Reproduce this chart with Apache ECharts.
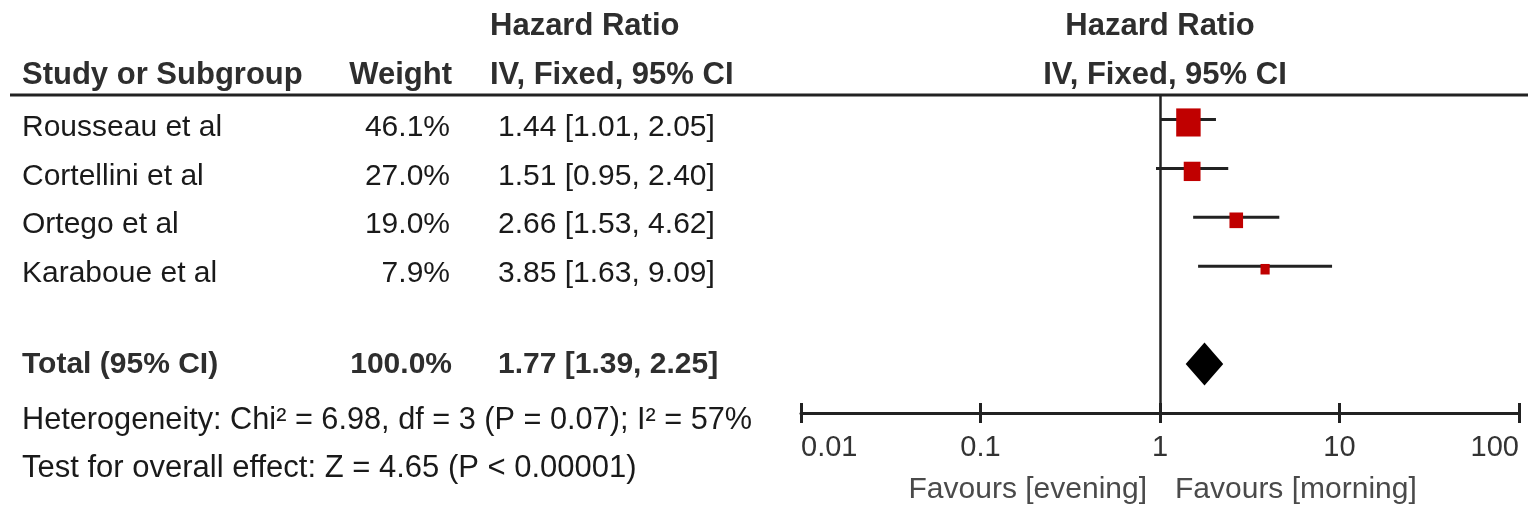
<!DOCTYPE html>
<html>
<head>
<meta charset="utf-8">
<script src="https://cdn.jsdelivr.net/npm/echarts@6/dist/echarts.min.js"></script>
<style>
  html, body { margin: 0; padding: 0; background: #fff; }
  #forest { width: 1528px; height: 510px; }
</style>
</head>
<body>
<div id="forest"></div>
<script>
// study rows
var studies = ['Rousseau et al', 'Cortellini et al', 'Ortego et al', 'Karaboue et al'];
var weights = [46.1, 27.0, 19.0, 7.9];
var hr = [1.44, 1.51, 2.66, 3.85];
var ciLow = [1.01, 0.95, 1.53, 1.63];
var ciHigh = [2.05, 2.40, 4.62, 9.09];
// pooled
var totalLabel = 'Total (95% CI)';
var totalWeight = 100.0;
var totalHr = 1.77;
var totalLow = 1.39;
var totalHigh = 2.25;
var heteroText = 'Heterogeneity: Chi² = 6.98, df = 3 (P = 0.07); I² = 57%';
var effectText = 'Test for overall effect: Z = 4.65 (P < 0.00001)';
var axisTicks = [0.01, 0.1, 1, 10, 100];
var favours = ['Favours [evening]', 'Favours [morning]'];

var FONT = '"Liberation Sans", Arial, sans-serif';
var TOTAL_ROW = 5;

function ciText(h, l, u) {
    return h.toFixed(2) + ' [' + l.toFixed(2) + ', ' + u.toFixed(2) + ']';
}

var myChart = echarts.init(document.getElementById('forest'));

// left table text
var graphics = [];
function txt(x, y, s, opt) {
    opt = opt || {};
    graphics.push({
        type: 'text', x: x, y: y, silent: true,
        style: {
            text: s, x: 0, y: 0,
            font: (opt.bold ? 'bold ' : '') + (opt.size || 30) + 'px ' + FONT,
            fill: opt.color || '#1a1a1a',
            textAlign: opt.align || 'left',
            textVerticalAlign: 'middle'
        }
    });
}
var HEAD = {bold: true, color: '#2e2e2e', size: 31};
// headers
txt(490, 26, 'Hazard Ratio', HEAD);
txt(22, 75, 'Study or Subgroup', HEAD);
txt(452, 75, 'Weight', {bold: true, color: '#2e2e2e', size: 31, align: 'right'});
txt(490, 75, 'IV, Fixed, 95% CI', HEAD);
txt(1160, 26, 'Hazard Ratio', {bold: true, color: '#2e2e2e', size: 31, align: 'center'});
txt(1165, 75, 'IV, Fixed, 95% CI', {bold: true, color: '#2e2e2e', size: 31, align: 'center'});

for (var i = 0; i < studies.length; i++) {
    var y = 128 + i * 48.5;
    txt(22, y, studies[i]);
    txt(450, y, weights[i].toFixed(1) + '%', {align: 'right'});
    txt(498, y, ciText(hr[i], ciLow[i], ciHigh[i]));
}
txt(22, 365, totalLabel, {bold: true, color: '#2e2e2e'});
txt(452, 365, totalWeight.toFixed(1) + '%', {bold: true, color: '#2e2e2e', align: 'right'});
txt(498, 365, ciText(totalHr, totalLow, totalHigh), {bold: true, color: '#2e2e2e'});
txt(22, 421, heteroText, {size: 30.7});
txt(22, 468, effectText, {size: 31});
txt(1147, 490, favours[0], {size: 30, color: '#4a4a4a', align: 'right'});
txt(1175, 490, favours[1], {size: 30, color: '#4a4a4a'});

// header rule
graphics.push({
    type: 'line', silent: true,
    shape: {x1: 10, y1: 95, x2: 1528, y2: 95},
    style: {stroke: '#222', lineWidth: 3}
});

var ciData = [];
var pointData = [];
for (var j = 0; j < studies.length; j++) {
    ciData.push([ciLow[j], ciHigh[j], j]);
    pointData.push([hr[j], j, weights[j]]);
}

option = {
    animation: false,
    backgroundColor: '#fff',
    graphic: graphics,
    grid: [
        {left: 801, right: 9, top: 95, bottom: 97},
        {left: 801, right: 9, top: 95, bottom: 97}
    ],
    xAxis: [
        {
            type: 'log', logBase: 10, min: 0.01, max: 100, gridIndex: 0,
            splitLine: {show: false},
            axisLine: {onZero: false, lineStyle: {color: '#222', width: 3}},
            axisTick: {length: 10, lineStyle: {color: '#222', width: 3}},
            axisLabel: {
                color: '#333', fontSize: 29, fontFamily: FONT, margin: 20,
                alignMinLabel: 'left', alignMaxLabel: 'right',
                formatter: function (v) {
                    for (var k = 0; k < axisTicks.length; k++) {
                        if (Math.abs(Math.log10(v) - Math.log10(axisTicks[k])) < 1e-6) return String(axisTicks[k]);
                    }
                    return '';
                }
            }
        },
        {
            // upward half of the tick marks
            type: 'log', logBase: 10, min: 0.01, max: 100, gridIndex: 1,
            splitLine: {show: false},
            axisLine: {show: false, onZero: false},
            axisLabel: {show: false},
            axisTick: {inside: true, length: 10, lineStyle: {color: '#222', width: 3}}
        }
    ],
    yAxis: [
        {type: 'value', inverse: true, min: -0.5, max: 6, show: false, gridIndex: 0},
        {type: 'value', inverse: true, min: -0.5, max: 6, show: false, gridIndex: 1}
    ],
    series: [
        {
            type: 'custom',
            name: 'ci',
            xAxisIndex: 0, yAxisIndex: 0,
            silent: true,
            data: ciData,
            renderItem: function (params, api) {
                var a = api.coord([api.value(0), api.value(2)]);
                var b = api.coord([api.value(1), api.value(2)]);
                return {
                    type: 'line',
                    shape: {x1: a[0], y1: a[1], x2: b[0], y2: b[1]},
                    style: {stroke: '#222', lineWidth: 3}
                };
            },
            markLine: {
                silent: true,
                symbol: 'none',
                label: {show: false},
                lineStyle: {color: '#222', width: 2.5, type: 'solid'},
                data: [{xAxis: 1}]
            }
        },
        {
            type: 'scatter',
            name: 'hr',
            xAxisIndex: 0, yAxisIndex: 0,
            silent: true,
            symbol: 'rect',
            symbolOffset: [0, 3],
            symbolSize: function (val) {
                var s = 6 + 0.4 * val[2];
                return [s, s * 1.15];
            },
            itemStyle: {color: '#c00000', opacity: 1},
            data: pointData,
            z: 3
        },
        {
            type: 'custom',
            name: 'total',
            xAxisIndex: 0, yAxisIndex: 0,
            silent: true,
            data: [[totalLow, totalHigh, totalHr, TOTAL_ROW]],
            renderItem: function (params, api) {
                var l = api.coord([api.value(0), api.value(3)]);
                var u = api.coord([api.value(1), api.value(3)]);
                var m = api.coord([api.value(2), api.value(3)]);
                var h = 21.5;
                return {
                    type: 'polygon',
                    shape: {points: [[l[0], m[1]], [m[0], m[1] - h], [u[0], m[1]], [m[0], m[1] + h]]},
                    style: {fill: '#000'}
                };
            }
        }
    ]
};
myChart.setOption(option);
</script>
</body>
</html>
